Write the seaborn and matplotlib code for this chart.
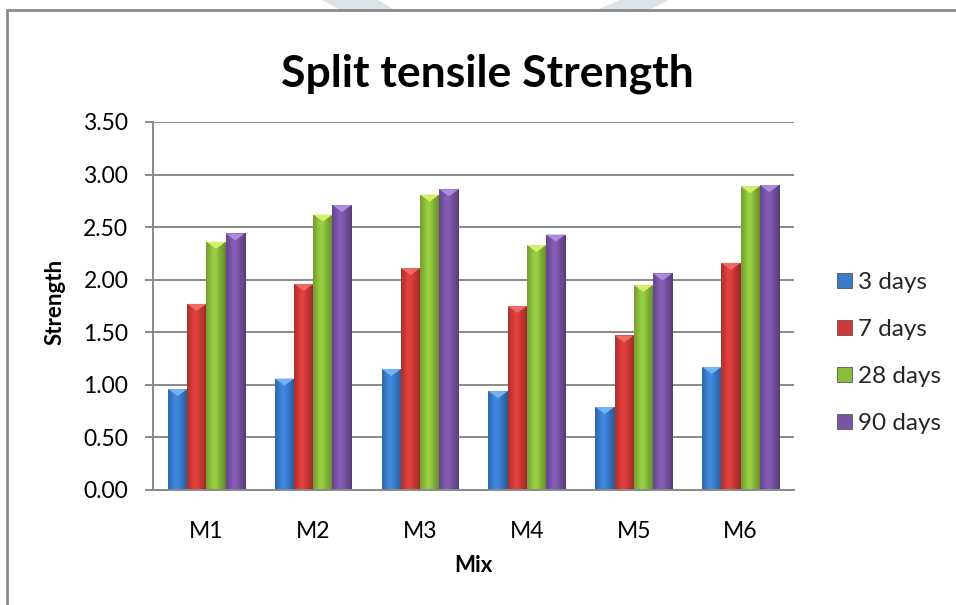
import numpy as np
import pandas as pd
import matplotlib
matplotlib.use("Agg")
import matplotlib.pyplot as plt
from matplotlib.lines import Line2D
from matplotlib.patches import Polygon
from matplotlib.colors import to_rgb
import seaborn as sns

# --- data -------------------------------------------------------------
mixes = ["M1", "M2", "M3", "M4", "M5", "M6"]
ages = ["3 days", "7 days", "28 days", "90 days"]
strength_3d = [0.96, 1.06, 1.15, 0.94, 0.79, 1.17]
strength_7d = [1.77, 1.96, 2.11, 1.75, 1.47, 2.16]
strength_28d = [2.36, 2.62, 2.81, 2.33, 1.95, 2.89]
strength_90d = [2.44, 2.71, 2.86, 2.43, 2.06, 2.90]
y_ticks = [0.0, 0.5, 1.0, 1.5, 2.0, 2.5, 3.0, 3.5]

df = pd.DataFrame({
    "Mix": mixes * len(ages),
    "Age": np.repeat(ages, len(mixes)),
    "Strength": strength_3d + strength_7d + strength_28d + strength_90d,
})

base_colors = {"3 days": "#3a7ccc", "7 days": "#d03a37",
               "28 days": "#8bbd3c", "90 days": "#7a54a6"}
top_colors = {"3 days": "#72b4f2", "7 days": "#ee6a66",
              "28 days": "#d6ef6a", "90 days": "#ab8ce0"}

# --- figure -----------------------------------------------------------
sns.set_theme(style="white")
plt.rcParams["font.family"] = ["Lato", "DejaVu Sans"]

W, H = 956, 605
fig = plt.figure(figsize=(W / 100, H / 100), dpi=100)
fig.patch.set_facecolor("white")

# faint decorative bands at the top edge
for pts, col in [
    ([(322, 0), (378, 0), (398, 12), (344, 12)], "#dce3e6"),
    ([(620, 0), (668, 0), (646, 12), (592, 12)], "#dce3e6"),
]:
    fig.patches.append(Polygon([(x / W, 1 - y / H) for x, y in pts],
                               closed=True, transform=fig.transFigure,
                               facecolor=col, edgecolor="none", zorder=0))

# outer chart frame (top and left edges)
frame_col = "#8a8a8a"
fig.lines.append(Line2D([7 / W, 1.0], [1 - 10 / H, 1 - 10 / H],
                        transform=fig.transFigure, color=frame_col, lw=2))
fig.lines.append(Line2D([7 / W, 7 / W], [0.0, 1 - 10 / H],
                        transform=fig.transFigure, color=frame_col, lw=2))

AX_L, AX_R, AX_T, AX_B = 153, 794, 122, 490
ax = fig.add_axes([AX_L / W, 1 - AX_B / H, (AX_R - AX_L) / W, (AX_B - AX_T) / H])
sns.barplot(data=df, x="Mix", y="Strength", hue="Age", hue_order=ages,
            palette=base_colors, width=0.72, saturation=1, errorbar=None,
            ax=ax, legend=True, edgecolor="none")

ax.set_ylim(0, 3.5)
ax.set_xlim(-0.5, len(mixes) - 0.5)

# shaded bar faces with a light bevel on top
px_per_unit = (AX_B - AX_T) / 3.5
bevel = 7 / px_per_unit


def shade(rgb, n=64):
    t = np.linspace(0, 1, n)
    # brighter towards the left-centre, darker at both edges
    f = 0.80 + 0.30 * np.exp(-((t - 0.42) / 0.30) ** 2)
    f = np.where(t > 0.85, f * (1 - 0.8 * (t - 0.85)), f)
    img = np.clip(np.outer(f, rgb), 0, 1)
    return img[np.newaxis, :, :]


for age, container in zip(ages, ax.containers):
    rgb = np.array(to_rgb(base_colors[age]))
    for bar in container:
        x0, w, h = bar.get_x(), bar.get_width(), bar.get_height()
        im = ax.imshow(shade(rgb), extent=[x0, x0 + w, 0, h], aspect="auto",
                       zorder=2.1, interpolation="bilinear")
        im.set_clip_path(bar)
        tri = Polygon([(x0, h), (x0 + w, h), (x0 + w / 2, h - bevel)],
                      closed=True, facecolor=top_colors[age],
                      edgecolor="none", zorder=2.2)
        ax.add_patch(tri)

ax.set_ylim(0, 3.5)
ax.set_xlim(-0.5, len(mixes) - 0.5)

# axes styling
grid_col = "#8a8a8a"
ax.set_yticks(y_ticks)
ax.set_yticklabels([f"{v:.2f}" for v in y_ticks])
ax.yaxis.grid(True, color=grid_col, lw=1.4)
ax.xaxis.grid(False)
ax.set_axisbelow(True)
for side in ["top", "right"]:
    ax.spines[side].set_visible(False)
for side in ["left", "bottom"]:
    ax.spines[side].set_color(grid_col)
    ax.spines[side].set_linewidth(1.4)
ax.tick_params(axis="y", left=True, length=5.8, width=1.4, color=grid_col,
               labelsize=16.5, labelcolor="black", pad=12)
ax.tick_params(axis="x", bottom=False, labelsize=16.5, labelcolor="black",
               pad=16)

ax.set_xlabel("Mix", fontsize=16, fontweight="bold", color="black",
              va="center", ha="center")
ax.xaxis.set_label_coords(0.5, (AX_B - 565) / (AX_B - AX_T))
ax.set_ylabel("Strength", fontsize=16, fontweight="bold", color="black",
              va="center", ha="center")
ax.yaxis.set_label_coords((55 - AX_L) / (AX_R - AX_L), (AX_B - 302) / (AX_B - AX_T))

fig.text(487 / W, 1 - 86 / H, "Split tensile Strength", ha="center",
         va="baseline", fontsize=32, fontweight="bold", color="black")

handles, labels = ax.get_legend_handles_labels()
for hnd in handles:
    hnd.set_edgecolor("#555555")
    hnd.set_linewidth(0.6)
ax.legend(handles, labels, loc="center left",
          bbox_to_anchor=(837 / W, 1 - 353 / H),
          bbox_transform=fig.transFigure, frameon=False, fontsize=17.5,
          handlelength=0.62, handleheight=0.62, handletextpad=0.25,
          labelspacing=1.07, borderpad=0, borderaxespad=0)

fig.savefig("out.png", dpi=100, facecolor="white")
